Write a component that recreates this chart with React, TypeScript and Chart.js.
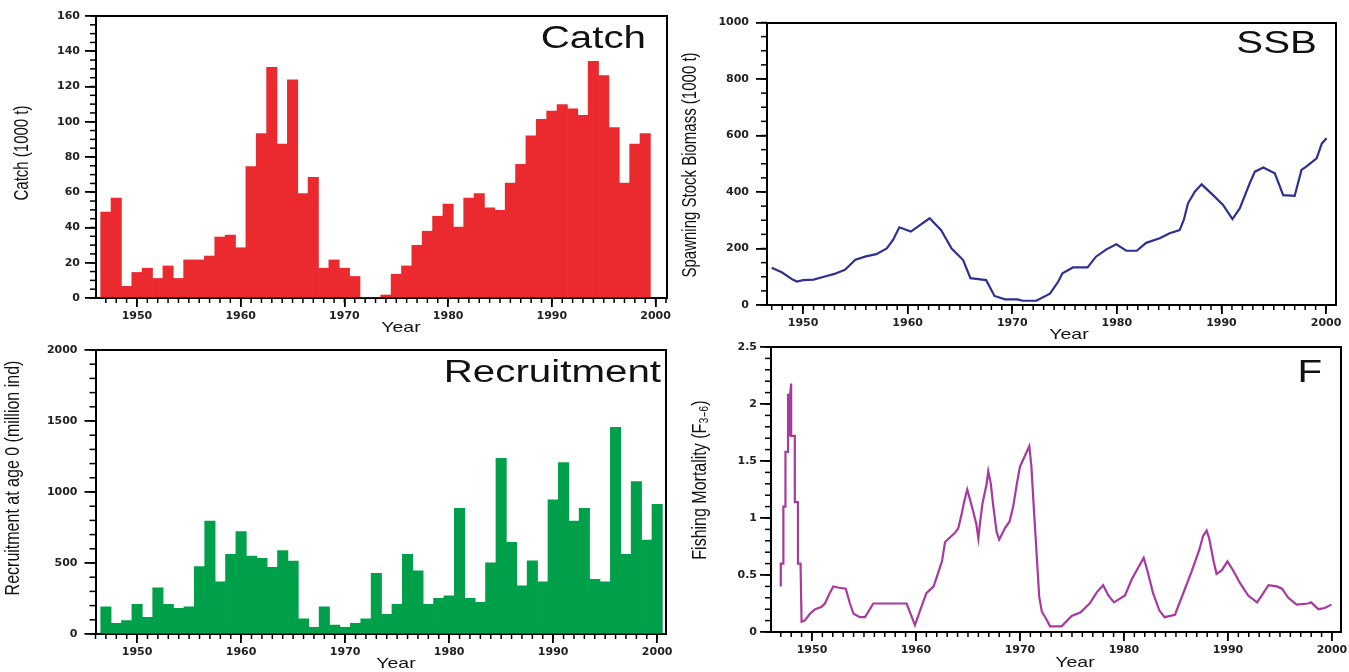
import React, { useEffect, useRef } from "react";
import { Chart, registerables } from "chart.js";

Chart.register(...registerables);

// ---------------- Data ----------------
const CATCH_FIRST_YEAR = 1947;
const catchValues = [
  48.8, 56.7, 6.6, 14.5, 16.9, 11.1, 18.2, 11.1, 21.6, 21.6, 23.8, 34.6, 35.7, 28.5,
  74.6, 93.3, 130.9, 87.3, 123.8, 59.2, 68.5, 16.9, 21.6, 16.9, 12.2, 0, 0, 1.7, 13.5,
  18.2, 29.9, 37.9, 46.4, 53.3, 40.2, 56.7, 59.2, 51.1, 49.8, 65.2, 75.9, 92.0, 101.4,
  106.1, 109.7, 107.4, 103.7, 134.3, 126.2, 96.7, 65.2, 87.3, 93.3,
];

const RECRUIT_FIRST_YEAR = 1947;
const recruitValues = [
  192, 75, 94, 209, 117, 326, 209, 181, 192, 474, 796, 368, 561, 721, 549, 533, 469, 587,
  514, 106, 47, 192, 63, 47, 75, 106, 427, 138, 209, 561, 444, 209, 251, 268, 885, 251,
  223, 502, 1237, 646, 340, 516, 368, 944, 1207, 796, 885, 385, 368, 1455, 561, 1073, 662,
  913,
];

const ssbYears = [
  1947.0, 1948.0, 1949.0, 1949.4, 1950.0, 1951.0, 1952.0, 1953.0, 1954.0, 1955.0, 1956.0,
  1957.0, 1958.0, 1958.6, 1959.2, 1960.3, 1962.1, 1963.2, 1964.2, 1965.3, 1966.0, 1967.5,
  1968.3, 1969.3, 1970.5, 1971.0, 1972.3, 1973.6, 1974.4, 1974.8, 1975.8, 1977.2, 1978.0,
  1979.0, 1979.95, 1980.9, 1981.9, 1982.8, 1984.1, 1985.05, 1986.0, 1986.4, 1986.8,
  1987.45, 1988.1, 1989.2, 1990.15, 1991.05, 1991.75, 1992.7, 1993.2, 1994.0, 1995.1,
  1995.9, 1997.0, 1997.65, 1998.1, 1999.1, 1999.6, 2000.05,
];
const ssbValues = [
  132, 115, 90, 83, 88, 90, 100, 110, 125, 160, 172, 180, 200, 230, 275, 260, 307, 265,
  200, 159, 95, 88, 32, 20, 20, 15, 15, 40, 83, 112, 133, 133, 171, 197, 215, 192, 192,
  220, 236, 254, 265, 301, 360, 401, 427, 389, 354, 304, 342, 431, 472, 487, 466, 389,
  386, 478, 490, 519, 572, 590,
];

const fYears = [
  1947.0, 1947.0, 1947.25, 1947.25, 1947.45, 1947.45, 1947.7, 1947.7, 1947.85, 1947.85,
  1947.9, 1948.0, 1948.0, 1948.35, 1948.35, 1948.65, 1948.65, 1948.9, 1949.0, 1949.3,
  1949.8, 1950.3, 1950.9, 1951.25, 1951.7, 1952.05, 1952.5, 1953.25, 1953.65, 1954.0,
  1954.6, 1955.1, 1955.9, 1959.1, 1959.9, 1960.4, 1961.0, 1961.7, 1962.1, 1962.5, 1962.8,
  1963.75, 1964.07, 1964.4, 1964.6, 1964.93, 1965.2, 1965.5, 1965.8, 1966.0, 1966.15,
  1966.4, 1966.8, 1966.95, 1967.2, 1967.4, 1967.75, 1968.0, 1968.55, 1969.0, 1969.35,
  1969.7, 1970.0, 1970.5, 1970.9, 1971.1, 1971.35, 1971.6, 1971.85, 1972.1, 1972.55,
  1972.9, 1974.0, 1974.97, 1975.8, 1976.7, 1977.4, 1978.0, 1978.5, 1979.04, 1980.1,
  1980.74, 1981.4, 1981.9, 1982.25, 1982.8, 1983.4, 1983.9, 1984.9, 1985.7, 1986.5,
  1987.24, 1987.6, 1987.95, 1988.2, 1988.6, 1988.9, 1989.4, 1989.95, 1990.5, 1991.15,
  1991.95, 1992.8, 1993.24, 1993.9, 1994.7, 1995.2, 1995.8, 1996.6, 1997.7, 1998.0,
  1998.7, 1999.3, 1999.95,
];
const fValues = [
  0.4, 0.6, 0.6, 1.1, 1.1, 1.58, 1.58, 2.08, 2.08, 1.72, 2.08, 2.18, 1.72, 1.72, 1.14,
  1.14, 0.6, 0.6, 0.09, 0.1, 0.16, 0.2, 0.22, 0.25, 0.34, 0.4, 0.39, 0.38, 0.25, 0.16,
  0.13, 0.13, 0.25, 0.25, 0.06, 0.19, 0.34, 0.4, 0.51, 0.62, 0.79, 0.87, 0.91, 1.04, 1.13,
  1.25, 1.16, 1.06, 0.95, 0.82, 0.95, 1.13, 1.3, 1.41, 1.3, 1.13, 0.88, 0.81, 0.91, 0.97,
  1.1, 1.3, 1.45, 1.55, 1.63, 1.45, 1.06, 0.69, 0.31, 0.18, 0.11, 0.05, 0.05, 0.14, 0.17,
  0.25, 0.35, 0.41, 0.32, 0.26, 0.32, 0.46, 0.57, 0.65, 0.54, 0.34, 0.19, 0.13, 0.15,
  0.34, 0.53, 0.72, 0.84, 0.89, 0.82, 0.63, 0.51, 0.54, 0.62, 0.54, 0.43, 0.32, 0.26,
  0.32, 0.41, 0.4, 0.38, 0.3, 0.24, 0.25, 0.26, 0.2, 0.21, 0.24,
];

// Tick labels
const yearTicks = [1950, 1960, 1970, 1980, 1990, 2000];
const catchTicks = [0, 20, 40, 60, 80, 100, 120, 140, 160];
const ssbTicks = [0, 200, 400, 600, 800, 1000];
const recruitTicks = [0, 500, 1000, 1500, 2000];
const fTicks = [0, 0.5, 1, 1.5, 2, 2.5];

// ---------------- Helpers ----------------
const FONT = "'Liberation Sans', Arial, Helvetica, sans-serif";
const TICK_FONT = { family: "'DejaVu Sans', 'Liberation Sans', sans-serif", size: 11, weight: "bold" };

function range(a: number, b: number, step: number): number[] {
  const out: number[] = [];
  const n = Math.floor((b - a) / step + 1e-6);
  for (let i = 0; i <= n; i++) out.push(Math.round((a + i * step) * 1000) / 1000);
  return out;
}

type TextItem = {
  text: string;
  x: number;
  y: number;
  size: number;
  align?: CanvasTextAlign;
  rotate?: boolean;
};

type PanelSpec = {
  left: number;
  top: number;
  width: number;
  height: number;
  area: { left: number; top: number; right: number; bottom: number };
  xMin: number;
  xMax: number;
  yMax: number;
  yMajor: number[];
  yMinorStep: number;
  yLabelPad: number;
  kind: "bar" | "line";
  xs: number[];
  ys: number[];
  color: string;
  texts: TextItem[];
};

// Minor tick marks (placed with the chart's scales) and panel texts
function makeDecor(texts: TextItem[], xMinor: number[], yMinor: number[]) {
  return {
    id: "decor",
    afterDraw(chart: any) {
      const ctx = chart.ctx as CanvasRenderingContext2D;
      const area = chart.chartArea;
      const xs = chart.scales.x;
      const ys = chart.scales.y;
      ctx.save();
      ctx.fillStyle = "#000";
      xMinor.forEach((v) => {
        const p = xs.getPixelForValue(v);
        ctx.fillRect(p - 0.75, area.bottom, 1.5, 5);
      });
      yMinor.forEach((v) => {
        const p = ys.getPixelForValue(v);
        ctx.fillRect(area.left - 6, p - 0.75, 6, 1.5);
      });
      ctx.restore();
      texts.forEach((t) => {
        ctx.save();
        ctx.translate(t.x, t.y);
        ctx.scale(1.3, 1);
        if (t.rotate) ctx.rotate(-Math.PI / 2);
        ctx.font = `${t.size}px ${FONT}`;
        ctx.fillStyle = "#111";
        ctx.textAlign = t.align ?? "center";
        ctx.textBaseline = t.rotate ? "middle" : "alphabetic";
        ctx.fillText(t.text, 0, 0);
        ctx.restore();
      });
    },
  };
}

function createChart(canvas: HTMLCanvasElement, p: PanelSpec) {
  const zeroPad = (s: any) => {
    s.paddingLeft = 0;
    s.paddingRight = 0;
    s.paddingTop = 0;
    s.paddingBottom = 0;
  };
  const xMinorVals = range(Math.ceil(p.xMin), Math.floor(p.xMax), 1);
  const yMinorVals = range(0, p.yMax, p.yMinorStep);
  const xAxisH = p.height - p.area.bottom;

  const points = p.xs.map((x, i) => ({ x, y: p.ys[i] }));
  const dataset: any =
    p.kind === "bar"
      ? {
          data: points,
          backgroundColor: p.color,
          barPercentage: 1,
          categoryPercentage: 1,
          xAxisID: "x",
          yAxisID: "y",
        }
      : {
          data: points,
          borderColor: p.color,
          borderWidth: 2.2,
          pointRadius: 0,
          tension: 0,
          fill: false,
          xAxisID: "x",
          yAxisID: "y",
        };

  const scales: any = {
    x: {
      type: "linear",
      min: p.xMin,
      max: p.xMax,
      offset: false,
      afterBuildTicks: (s: any) => {
        s.ticks = yearTicks.map((v) => ({ value: v }));
      },
      ticks: {
        autoSkip: false,
        maxRotation: 0,
        minRotation: 0,
        padding: 3,
        color: "#222",
        font: TICK_FONT,
        callback: (v: any) => String(v),
      },
      grid: { drawOnChartArea: false, tickLength: 9, color: "#000", lineWidth: 1.8, offset: false },
      border: { display: true, color: "#000", width: 2 },
      afterFit: (s: any) => {
        s.height = xAxisH;
        zeroPad(s);
      },
    },
    y: {
      type: "linear",
      min: 0,
      max: p.yMax,
      afterBuildTicks: (s: any) => {
        s.ticks = p.yMajor.map((v) => ({ value: v }));
      },
      ticks: {
        autoSkip: false,
        padding: p.yLabelPad,
        color: "#222",
        font: TICK_FONT,
        callback: (v: any) => String(v),
      },
      grid: { drawOnChartArea: false, tickLength: 11, color: "#000", lineWidth: 1.8 },
      border: { display: true, color: "#000", width: 2 },
      afterFit: (s: any) => {
        s.width = p.area.left;
        zeroPad(s);
      },
    },
    xTop: {
      type: "linear",
      position: "top",
      ticks: { display: false },
      grid: { display: false },
      border: { display: true, color: "#000", width: 2 },
      afterFit: (s: any) => {
        s.height = 0;
        zeroPad(s);
      },
    },
    yRight: {
      type: "linear",
      position: "right",
      ticks: { display: false },
      grid: { display: false },
      border: { display: true, color: "#000", width: 2 },
      afterFit: (s: any) => {
        s.width = 0;
        zeroPad(s);
      },
    },
  };

  const opts: any = {
    responsive: false,
    animation: false,
    layout: { padding: { top: p.area.top, right: p.width - p.area.right } },
    plugins: { legend: { display: false }, tooltip: { enabled: false } },
    scales,
  };

  return new Chart(canvas, {
    type: p.kind,
    data: { datasets: [dataset] },
    options: opts,
    plugins: [makeDecor(p.texts, xMinorVals, yMinorVals) as any],
  });
}

// ---------------- Panels ----------------
const catchYears = catchValues.map((_, i) => CATCH_FIRST_YEAR + i);
const recruitYears = recruitValues.map((_, i) => RECRUIT_FIRST_YEAR + i);

const PANELS: PanelSpec[] = [
  {
    left: 0,
    top: 0,
    width: 675,
    height: 340,
    area: { left: 96, top: 16, right: 667, bottom: 298 },
    xMin: 1946.05,
    xMax: 2001.1,
    yMax: 160,
    yMajor: catchTicks,
    yMinorStep: 5,
    yLabelPad: 5,
    kind: "bar",
    xs: catchYears,
    ys: catchValues,
    color: "#EA2A2F",
    texts: [
      { text: "Catch", x: 646, y: 48, size: 31, align: "right" },
      { text: "Catch (1000 t)", x: 23, y: 153, size: 15, rotate: true },
      { text: "Year", x: 401, y: 332, size: 15 },
    ],
  },
  {
    left: 675,
    top: 0,
    width: 674,
    height: 345,
    area: { left: 92, top: 22.5, right: 661, bottom: 305 },
    xMin: 1946.55,
    xMax: 2000.95,
    yMax: 1000,
    yMajor: ssbTicks,
    yMinorStep: 50,
    yLabelPad: 7,
    kind: "line",
    xs: ssbYears,
    ys: ssbValues,
    color: "#2E3192",
    texts: [
      { text: "SSB", x: 642, y: 53, size: 31, align: "right" },
      { text: "Spawning Stock Biomass (1000 t)", x: 16, y: 165, size: 15, rotate: true },
      { text: "Year", x: 394, y: 339, size: 15 },
    ],
  },
  {
    left: 0,
    top: 336,
    width: 675,
    height: 336,
    area: { left: 95.5, top: 14, right: 665.5, bottom: 298 },
    xMin: 1946.0,
    xMax: 2000.8,
    yMax: 2000,
    yMajor: recruitTicks,
    yMinorStep: 100,
    yLabelPad: 7,
    kind: "bar",
    xs: recruitYears,
    ys: recruitValues,
    color: "#00A04B",
    texts: [
      { text: "Recruitment", x: 661, y: 46, size: 31, align: "right" },
      { text: "Recruitment at age 0 (million ind)", x: 13, y: 142, size: 16, rotate: true },
      { text: "Year", x: 396, y: 332, size: 15 },
    ],
  },
  {
    left: 675,
    top: 336,
    width: 674,
    height: 336,
    area: { left: 96, top: 11, right: 666, bottom: 296 },
    xMin: 1946.06,
    xMax: 2000.87,
    yMax: 2.5,
    yMajor: fTicks,
    yMinorStep: 0.1,
    yLabelPad: 3,
    kind: "line",
    xs: fYears,
    ys: fValues,
    color: "#A8399F",
    texts: [
      { text: "F", x: 647, y: 46, size: 31, align: "right" },
      { text: "Fishing Mortality (F\u2083\u208B\u2086)", x: 25, y: 144, size: 16, rotate: true },
      { text: "Year", x: 400, y: 331, size: 15 },
    ],
  },
];

function Panel({ spec }: { spec: PanelSpec }) {
  const ref = useRef<HTMLCanvasElement>(null);
  useEffect(() => {
    if (!ref.current) return;
    const chart = createChart(ref.current, spec);
    return () => chart.destroy();
  }, [spec]);
  return (
    <canvas
      ref={ref}
      width={spec.width}
      height={spec.height}
      style={{
        position: "absolute",
        left: spec.left,
        top: spec.top,
        width: spec.width,
        height: spec.height,
        display: "block",
      }}
    />
  );
}

export default function App() {
  return (
    <div
      style={{
        position: "absolute",
        left: 0,
        top: 0,
        width: 1349,
        height: 672,
        background: "#fff",
        overflow: "hidden",
      }}
    >
      {PANELS.map((p, i) => (
        <Panel key={i} spec={p} />
      ))}
    </div>
  );
}
